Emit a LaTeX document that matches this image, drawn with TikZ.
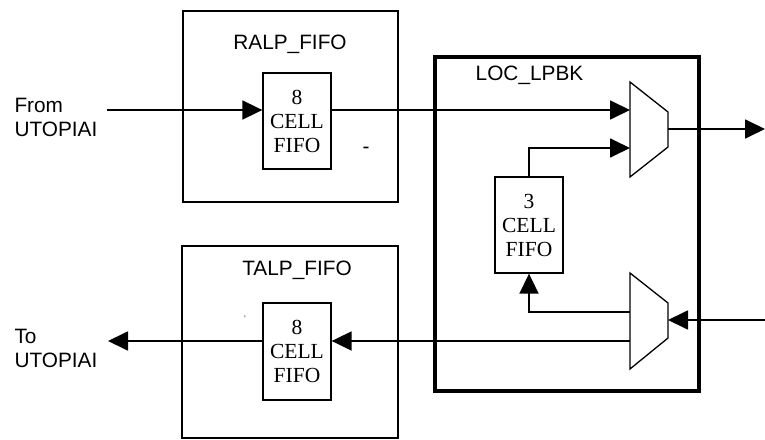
\documentclass[tikz,border=0pt]{standalone}
\usepackage{fontspec}
\setmainfont{Liberation Serif}
\setsansfont{Liberation Sans}
\usetikzlibrary{arrows.meta}

\begin{document}
\begin{tikzpicture}[
    x=1pt, y=-1pt,
    >={Triangle[length=20pt,width=19pt]},
    blk/.style={draw=black, line width=1.3pt, inner sep=0pt},
    fifo/.style={draw=black, line width=1.3pt, inner sep=0pt,
      minimum width=68pt, minimum height=96pt, align=center,
      font=\rmfamily\fontsize{21.5}{24}\selectfont},
    lbl/.style={font=\sffamily\fontsize{20.8}{24}\selectfont},
    sig/.style={->, line width=1.8pt, draw=black},
    mux/.style={draw=black, line width=1.3pt, line join=miter},
  ]
    \useasboundingbox (0,0) rectangle (765,439);

    % outer blocks
    \node[blk, minimum width=215pt, minimum height=191pt] (ralp) at (290.5,106.5) {};
    \node[blk, minimum width=216pt, minimum height=192pt] (talp) at (290,342) {};
    \node[blk, line width=4pt, minimum width=264pt, minimum height=334pt] (loc) at (567,224) {};

    \node[lbl] (ralplbl) at (290,44.5) {RALP\_FIFO};
    \node[lbl] (talplbl) at (297,270.5) {TALP\_FIFO};
    \node[lbl] (loclbl) at (529.5,75) {LOC\_LPBK};

    % fifos
    \node[fifo] (fifo8a) at (297,121) {8\\CELL\\FIFO};
    \node[fifo, minimum height=97pt] (fifo8b) at (297,351.5) {8\\CELL\\FIFO};
    \node[fifo] (fifo3) at (529,225) {3\\CELL\\FIFO};

    % muxes
    \draw[mux] (630,82) -- (668,112) -- (668,147) -- (630,177) -- cycle;
    \coordinate (muxa-in1) at (630,110);
    \coordinate (muxa-in2) at (630,148);
    \coordinate (muxa-out) at (668,129);
    \draw[mux] (630,273) -- (668,303) -- (668,338) -- (630,369) -- cycle;
    \coordinate (muxb-in) at (668,320);
    \coordinate (muxb-o1) at (630,312);
    \coordinate (muxb-o2) at (630,341);

    % outside ends
    \node[lbl, align=left, anchor=west] (fromlbl) at (11,117.5) {From\\UTOPIAI};
    \node[lbl, align=left, anchor=west] (tolbl) at (11,348.5) {To\\UTOPIAI};
    \coordinate (from) at (107,110);
    \coordinate (to) at (108,341);
    \coordinate (outa) at (765,129);
    \coordinate (inb) at (765,320);

    \node[lbl, inner sep=0pt] (dash) at (366,150) {-};
    \node[lbl, inner sep=0pt, font=\sffamily\fontsize{8}{8}\selectfont] (tick) at (245,319) {'};

    % signals
    \draw[sig] (from) -- (fifo8a.west |- from);
    \draw[sig] (fifo8a.east |- muxa-in1) -- (muxa-in1);
    \draw[sig] (fifo3.north) |- (muxa-in2);
    \draw[sig] (muxa-out) -- (outa);
    \draw[sig] (inb) -- (muxb-in);
    \draw[sig] (muxb-o1) -| (fifo3.south);
    \draw[sig] (muxb-o2) -- (fifo8b.east |- muxb-o2);
    \draw[sig] (fifo8b.west |- muxb-o2) -- (to);
\end{tikzpicture}
\end{document}
